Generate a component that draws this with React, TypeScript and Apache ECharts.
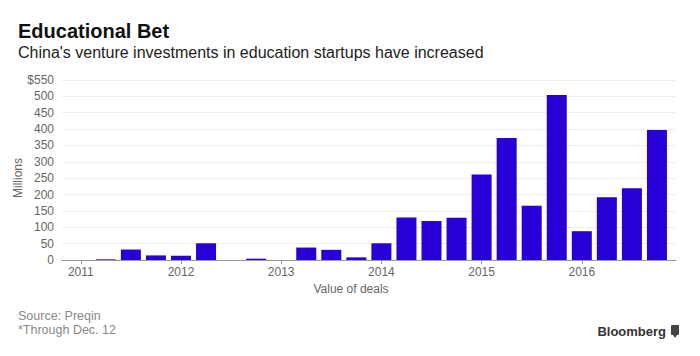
import React, { useEffect, useRef } from "react";
import * as echarts from "echarts";

const years = [2011, 2012, 2013, 2014, 2015, 2016];
const quarters = ["Q1", "Q2", "Q3", "Q4"];
// quarterly value of deals, $ millions (2011 Q1 .. 2016 Q4*)
const dealValues = [
  0, 2, 32, 14,
  13, 51, 0, 4,
  0, 38, 31, 8,
  51, 130, 119, 129,
  261, 373, 166, 504,
  88, 192, 219, 397,
];
const yTicks = [0, 50, 100, 150, 200, 250, 300, 350, 400, 450, 500, 550];

const FONT = "'Liberation Sans', Arial, Helvetica, sans-serif";

export default function App() {
  const ref = useRef<HTMLDivElement>(null);
  useEffect(() => {
    document.body.style.margin = "0";
    if (!ref.current) return;
    const chart = echarts.init(ref.current, null, { renderer: "svg" });
    const points: [number, number][] = [];
    years.forEach((y, yi) => {
      quarters.forEach((q, qi) => {
        points.push([y + qi / 4, dealValues[yi * 4 + qi]]);
      });
    });
    chart.setOption({
      animation: false,
      textStyle: { fontFamily: FONT },
      grid: { left: 62, right: 24, top: 80, bottom: 96, containLabel: false },
      xAxis: {
        type: "value",
        min: 2010.8125,
        max: 2016.94,
        splitLine: { show: false },
        axisLine: { show: true, lineStyle: { color: "#999", width: 1 } },
        axisTick: {
          show: true,
          customValues: years,
          length: 4,
          lineStyle: { color: "#999" },
        },
        axisLabel: {
          customValues: years,
          formatter: (v: number) => String(Math.round(v)),
          color: "#666",
          fontSize: 12,
          margin: 6,
          fontFamily: FONT,
        },
      },
      yAxis: {
        type: "value",
        min: 0,
        max: 550,
        interval: 50,
        axisLine: { show: false },
        axisTick: { show: false },
        splitLine: { show: true, lineStyle: { color: "#eeeeee", width: 1 } },
        axisLabel: {
          color: "#666",
          fontSize: 12,
          margin: 8,
          fontFamily: FONT,
          formatter: (v: number) =>
            v === yTicks[yTicks.length - 1] ? "$" + v : String(v),
        },
      },
      series: [
        {
          type: "bar",
          data: points,
          barWidth: 20,
          itemStyle: { color: "#2800d7" },
        },
      ],
      graphic: [
        {
          type: "text",
          left: 18,
          top: 21,
          style: {
            text: "Educational Bet",
            fontFamily: FONT,
            fontSize: 20,
            fontWeight: "bold",
            fill: "#111",
          },
        },
        {
          type: "text",
          left: 18,
          top: 44,
          style: {
            text: "China's venture investments in education startups have increased",
            fontFamily: FONT,
            fontSize: 16,
            fill: "#222",
          },
        },
        {
          type: "text",
          x: 18,
          y: 178,
          rotation: Math.PI / 2,
          style: {
            text: "Millions",
            fontFamily: FONT,
            fontSize: 12,
            fill: "#666",
            align: "center",
            verticalAlign: "middle",
          },
        },
        {
          type: "text",
          x: 351,
          y: 289,
          style: {
            text: "Value of deals",
            fontFamily: FONT,
            fontSize: 12,
            fill: "#666",
            align: "center",
            verticalAlign: "middle",
          },
        },
        {
          type: "text",
          x: 18,
          y: 316,
          style: {
            text: "Source: Preqin",
            fontFamily: FONT,
            fontSize: 12.5,
            fill: "#888",
            verticalAlign: "middle",
          },
        },
        {
          type: "text",
          x: 18,
          y: 330,
          style: {
            text: "*Through Dec. 12",
            fontFamily: FONT,
            fontSize: 12.5,
            fill: "#888",
            verticalAlign: "middle",
          },
        },
        {
          type: "text",
          x: 666,
          y: 331,
          style: {
            text: "Bloomberg",
            fontFamily: FONT,
            fontSize: 13,
            fontWeight: "bold",
            fill: "#333",
            align: "right",
            verticalAlign: "middle",
          },
        },
        {
          type: "rect",
          shape: { x: 671, y: 325, width: 8, height: 10, r: 1 },
          style: { fill: "#444" },
        },
        {
          type: "polygon",
          shape: { points: [[673, 335], [677, 335], [675, 338]] },
          style: { fill: "#444" },
        },
      ],
    });
    return () => chart.dispose();
  }, []);
  return <div ref={ref} style={{ width: 700, height: 356 }} />;
}
